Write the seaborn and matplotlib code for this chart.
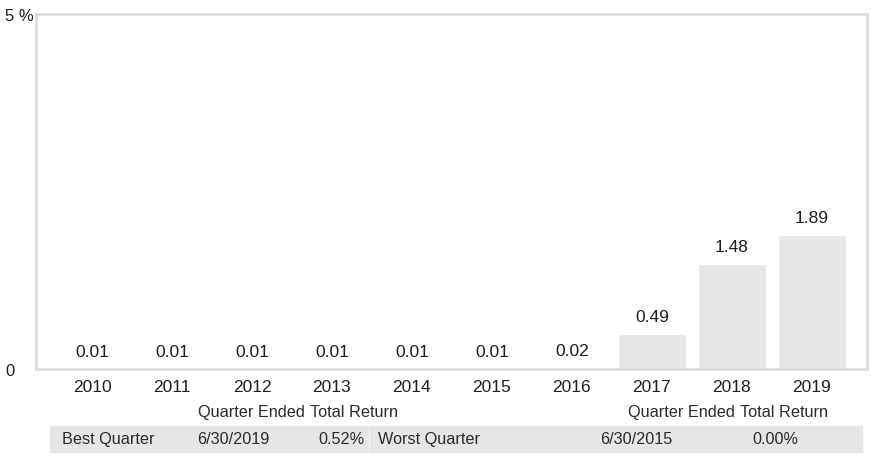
import matplotlib
matplotlib.use("Agg")
import matplotlib.pyplot as plt
import seaborn as sns
from matplotlib.patches import Rectangle

years = ["2010", "2011", "2012", "2013", "2014", "2015", "2016", "2017", "2018", "2019"]
returns = [0.01, 0.01, 0.01, 0.01, 0.01, 0.01, 0.02, 0.49, 1.48, 1.89]
value_labels = ["0.01", "0.01", "0.01", "0.01", "0.01", "0.01", "0.02", "0.49", "1.48", "1.89"]

best = ["Best Quarter", "6/30/2019", "0.52%"]
worst = ["Worst Quarter", "6/30/2015", "0.00%"]
header = ["Quarter Ended", "Total Return"]

sns.set_style("white")
plt.rcParams["font.family"] = ["Liberation Sans", "DejaVu Sans"]

W, H = 873, 460
fig = plt.figure(figsize=(W / 100, H / 100), dpi=100)
ax = fig.add_axes([36 / W, 1 - 370 / H, 831 / W, 355 / H])

sns.barplot(x=years, y=returns, color="#e6e6e6", saturation=1, width=0.85, ax=ax)
ax.bar_label(ax.containers[0], labels=value_labels, padding=7, fontsize=12.5, color="#1e1e1e")

ax.set_xlim(-0.7, 9.69)
ax.set_ylim(0, 5)
ax.set_yticks([0, 5], labels=["0", "5 %"])
for lab in ax.get_yticklabels():
    lab.set_ha("left")
ax.tick_params(axis="y", length=0, pad=22, labelsize=12, labelcolor="#1e1e1e")
ax.tick_params(axis="x", length=0, pad=7, labelsize=12.5, labelcolor="#1e1e1e")
ax.set_xlabel("")
ax.set_ylabel("")
for sp in ax.spines.values():
    sp.set_visible(True)
    sp.set_color("#d9d9d9")
    sp.set_linewidth(1.8)


def px(x, y):
    return x / W, 1 - y / H


# summary table under the chart (pixel positions)
for x0, x1 in [(50, 368), (370, 862)]:
    fig.patches.append(Rectangle(px(x0, 453), (x1 - x0) / W, 26 / H,
                                 transform=fig.transFigure, color="#e6e6e6", zorder=0))

tsize = 11.7
tcol = "#2a2a2a"
cols = [
    # label x, date x, header left, header right, value center
    (62, 197, 198, 398, 341, best),
    (378, 600, 628, 828, 775, worst),
]
for lx, dx, hl, hr, vx, row in cols:
    fig.text(*px(hl, 413), header[0], fontsize=tsize, color=tcol, va="center")
    fig.text(*px(hr, 413), header[1], fontsize=tsize, color=tcol, va="center", ha="right")
    fig.text(*px(lx, 440), row[0], fontsize=tsize, color=tcol, va="center")
    fig.text(*px(dx, 440), row[1], fontsize=tsize, color=tcol, va="center")
    fig.text(*px(vx, 440), row[2], fontsize=tsize, color=tcol, va="center", ha="center")

fig.savefig("out.png", dpi=100)
